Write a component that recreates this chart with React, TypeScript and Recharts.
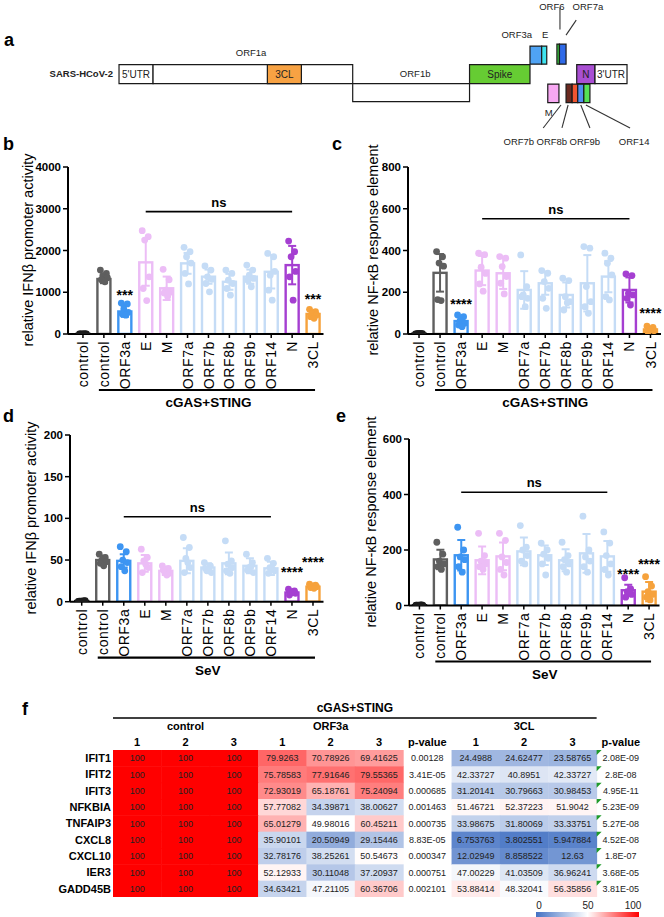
import React from "react";
import {
  Bar,
  ComposedChart,
  ReferenceArea,
  ReferenceLine,
  Scatter,
  ScatterChart,
  XAxis,
  YAxis,
} from "recharts";

const FONT = "'Liberation Sans', Arial, Helvetica, sans-serif";

// ---------- panel a: genome map (map units: 5'UTR start = 0, 3'UTR end = 100)
const genomeParts = [
  { name: "5'UTR", start: 0, end: 6.7, low: 0, high: 1, color: "#ffffff", inside: true },
  { name: "ORF1a", start: 6.7, end: 46, low: 0, high: 1, color: "#ffffff", inside: false },
  { name: "3CL", start: 29.2, end: 35.9, low: 0, high: 1, color: "#f7a243", inside: true },
  { name: "ORF1b", start: 46, end: 69, low: -0.95, high: 0, color: "#ffffff", inside: false },
  { name: "Spike", start: 69, end: 80.9, low: 0, high: 1, color: "#66cc33", inside: true },
  { name: "ORF3a", start: 80.9, end: 83.2, low: 1.02, high: 1.97, color: "#4fa3f4", inside: false },
  { name: "E", start: 83.2, end: 84.2, low: 1.02, high: 1.97, color: "#3fe3ee", inside: false },
  { name: "ORF6", start: 86.2, end: 86.7, low: 1.02, high: 2.08, color: "#3fcf45", inside: false },
  { name: "ORF7a", start: 86.7, end: 88.0, low: 1.02, high: 2.08, color: "#2f6ae8", inside: false },
  { name: "M", start: 84.4, end: 86.6, low: -1.0, high: -0.03, color: "#f7a8f2", inside: false },
  { name: "ORF7b", start: 88.0, end: 89.2, low: -1.0, high: -0.03, color: "#6b2a20", inside: false },
  { name: "ORF8b", start: 89.2, end: 90.3, low: -1.0, high: -0.03, color: "#ef5530", inside: false },
  { name: "ORF9b", start: 90.3, end: 91.5, low: -1.0, high: -0.03, color: "#4f8ff0", inside: false },
  { name: "ORF14", start: 91.5, end: 92.7, low: -1.0, high: -0.03, color: "#55e055", inside: false },
  { name: "N", start: 90.1, end: 93.7, low: 0, high: 1, color: "#a94fd3", inside: true },
  { name: "3'UTR", start: 93.7, end: 100, low: 0, high: 1, color: "#ffffff", inside: true },
];

const genomeTags = [
  { text: "SARS-HCoV-2", x: -1.2, y: 0.52, anchor: "end", bold: true },
  { text: "ORF1a", x: 26, y: 1.6, anchor: "middle", bold: false },
  { text: "ORF1b", x: 58.3, y: 0.5, anchor: "middle", bold: false },
  { text: "ORF3a", x: 78.3, y: 2.55, anchor: "middle", bold: false },
  { text: "E", x: 83.9, y: 2.55, anchor: "middle", bold: false },
  { text: "ORF6", x: 85.2, y: 4.03, anchor: "middle", bold: false },
  { text: "ORF7a", x: 92.3, y: 4.03, anchor: "middle", bold: false },
  { text: "M", x: 84.6, y: -1.55, anchor: "middle", bold: false },
  { text: "ORF7b", x: 78.7, y: -3.08, anchor: "middle", bold: false },
  { text: "ORF8b", x: 85.2, y: -3.08, anchor: "middle", bold: false },
  { text: "ORF9b", x: 91.7, y: -3.08, anchor: "middle", bold: false },
  { text: "ORF14", x: 101.4, y: -3.08, anchor: "middle", bold: false },
];

const genomeLinks = [
  [86.8, 4.0, 86.8, 2.84],
  [88.0, 2.55, 90.0, 3.34],
  [87.0, -1.13, 83.5, -2.34],
  [88.4, -1.13, 87.2, -2.34],
  [90.9, -1.13, 92.7, -2.34],
  [91.9, -1.13, 100.6, -2.34],
];

// ---------- panels b-e
const categories = ["control", "control", "ORF3a", "E", "M", "ORF7a", "ORF7b", "ORF8b", "ORF9b", "ORF14", "N", "3CL"];
const categoryKeys = ["mock", "ctrl", "ORF3a", "E", "M", "ORF7a", "ORF7b", "ORF8b", "ORF9b", "ORF14", "N", "3CL"];
const barColors = ["#1c1c1c", "#5f5f5f", "#3d95f2", "#ecbdf6", "#ecbdf6", "#c5dcf6", "#c5dcf6", "#c5dcf6", "#c5dcf6", "#c5dcf6", "#a53fd1", "#f6a23c"];

// b: IFNβ, cGAS+STING
const ifnCgasMean = [3, 1317, 540, 1716, 1095, 1692, 1373, 1250, 1373, 1490, 1650, 480];
const ifnCgasSd = [2, 100, 130, 560, 280, 250, 170, 190, 170, 400, 460, 80];
const ifnCgasReps = [
  [0, 2, 4, 5, 3, 6],
  [1530, 1450, 1400, 1350, 1300, 1250],
  [740, 720, 600, 520, 480, 450],
  [2475, 2330, 2250, 1370, 1090, 800],
  [1550, 1300, 1050, 1000, 980, 900],
  [2075, 1970, 1850, 1700, 1450, 1200],
  [1630, 1530, 1370, 1310, 1210, 1010],
  [1530, 1450, 1290, 1210, 1090, 930],
  [1650, 1530, 1410, 1330, 1290, 1130],
  [1930, 1850, 1410, 1500, 1050, 810],
  [2225, 1970, 1850, 1500, 1370, 810],
  [590, 535, 495, 455, 415, 375],
];
const ifnCgasStars = [
  { key: "ORF3a", v: 982, s: "***" },
  { key: "3CL", v: 893, s: "***" },
];

// c: NF-κB, cGAS+STING
const nfkbCgasMean = [2, 293, 62, 304, 291, 211, 243, 187, 243, 275, 211, 22];
const nfkbCgasSd = [1, 90, 22, 70, 75, 90, 55, 60, 135, 75, 60, 10];
const nfkbCgasReps = [
  [1, 2, 3, 2, 1, 3],
  [395, 370, 340, 325, 165, 160],
  [91, 83, 64, 51, 43, 35],
  [387, 380, 320, 290, 240, 205],
  [371, 363, 323, 275, 243, 192],
  [379, 227, 187, 171, 179, 131],
  [304, 291, 251, 219, 171, 123],
  [267, 256, 179, 155, 115, 150],
  [419, 411, 227, 155, 131, 99],
  [387, 363, 339, 283, 179, 163],
  [288, 280, 195, 187, 171, 139],
  [38, 32, 19, 16, 11, 20],
];
const nfkbCgasStars = [
  { key: "ORF3a", v: 153, s: "****" },
  { key: "3CL", v: 110, s: "****" },
];

// d: IFNβ, SeV
const ifnSevMean = [0.8, 50, 49, 46, 37, 49, 41, 46, 43, 40, 11, 18];
const ifnSevSd = [0.3, 5, 8, 10, 5, 15, 5, 13, 9, 8, 3, 2];
const ifnSevReps = [
  [0.5, 1, 0.8, 1.2, 0.6, 0.9],
  [57, 53, 50, 48, 46, 43],
  [66, 60, 50, 47, 42, 37],
  [63, 53, 49, 41, 35, 45],
  [43, 40, 35, 34, 38, 32],
  [77, 65, 52, 41, 35, 47],
  [47, 43, 37, 35, 40, 38],
  [73, 49, 45, 41, 37, 34],
  [57, 47, 41, 35, 38, 42],
  [52, 46, 41, 37, 34, 40],
  [15, 13, 12, 10, 8, 11],
  [21, 20, 19, 18, 17, 16],
];
const ifnSevStars = [
  { key: "N", v: 38.5, s: "****" },
  { key: "3CL", v: 50.6, s: "****" },
];

// e: NF-κB, SeV
const nfkbSevMean = [1, 166, 181, 163, 177, 195, 181, 163, 188, 177, 55, 50];
const nfkbSevSd = [0.5, 35, 55, 50, 50, 50, 35, 40, 70, 55, 20, 35];
const nfkbSevReps = [
  [1, 2, 1, 0, 1, 2],
  [228, 185, 160, 150, 140, 130],
  [282, 200, 175, 165, 140, 120],
  [260, 180, 160, 150, 140, 130],
  [260, 235, 175, 155, 130, 110],
  [288, 210, 200, 180, 160, 150],
  [225, 200, 185, 170, 150, 110],
  [228, 180, 165, 150, 140, 120],
  [322, 200, 175, 160, 140, 120],
  [265, 225, 180, 150, 130, 110],
  [100, 60, 50, 40, 30, 50],
  [104, 70, 50, 40, 30, 20],
];
const nfkbSevStars = [
  { key: "N", v: 119, s: "****" },
  { key: "3CL", v: 155, s: "****" },
];

// ---------- panel f: relative expression (%)
const heatGenes = ["IFIT1", "IFIT2", "IFIT3", "NFKBIA", "TNFAIP3", "CXCL8", "CXCL10", "IER3", "GADD45B"];
const controlRep1 = [100, 100, 100, 100, 100, 100, 100, 100, 100];
const controlRep2 = [100, 100, 100, 100, 100, 100, 100, 100, 100];
const controlRep3 = [100, 100, 100, 100, 100, 100, 100, 100, 100];
const orf3aRep1 = [79.9263, 75.78583, 72.93019, 57.77082, 65.01279, 35.90101, 32.78176, 52.12933, 34.63421];
const orf3aRep2 = [70.78926, 77.91646, 65.18761, 34.39871, 49.98016, 20.50949, 38.25261, 30.11048, 47.21105];
const orf3aRep3 = [69.41625, 79.55365, 75.24094, 38.00627, 60.45211, 29.15446, 50.54673, 37.20937, 60.36706];
const orf3aP = ["0.00128", "3.41E-05", "0.000685", "0.001463", "0.000735", "8.83E-05", "0.000347", "0.000751", "0.002101"];
const clRep1 = [24.4988, 42.33727, 31.20141, 51.46721, 33.98675, 6.753763, 12.02949, 47.00229, 53.88414];
const clRep2 = [24.62477, 40.8951, 30.79663, 52.37223, 31.80069, 3.802551, 8.858522, 41.03509, 48.32041];
const clRep3 = [23.58765, 42.33727, 30.98453, 51.9042, 33.33751, 5.947884, 12.63, 36.96241, 56.35856];
const clP = ["2.08E-09", "2.8E-08", "4.95E-11", "5.23E-09", "5.27E-08", "4.52E-08", "1.8E-07", "3.68E-05", "3.81E-05"];

const heatColumns = [
  { key: "c1", label: "1", values: controlRep1, texts: null },
  { key: "c2", label: "2", values: controlRep2, texts: null },
  { key: "c3", label: "3", values: controlRep3, texts: null },
  { key: "o1", label: "1", values: orf3aRep1, texts: null },
  { key: "o2", label: "2", values: orf3aRep2, texts: null },
  { key: "o3", label: "3", values: orf3aRep3, texts: null },
  { key: "op", label: "p-value", values: null, texts: orf3aP },
  { key: "l1", label: "1", values: clRep1, texts: null },
  { key: "l2", label: "2", values: clRep2, texts: null },
  { key: "l3", label: "3", values: clRep3, texts: null },
  { key: "lp", label: "p-value", values: null, texts: clP },
];
const heatColKeys = heatColumns.map((c) => c.key);

// heat table layout
const HEAT_W = 664;
const HEAT_H = 197;
const HEAT_MARGIN = { top: 30, right: 19, bottom: 0, left: 0 };
const HEAT_YAXIS_W = 113;
const HEAT_XAXIS_H = 20;
const HEAT_BW = (HEAT_W - HEAT_MARGIN.right - HEAT_YAXIS_W) / heatColumns.length;
const HEAT_BH = (HEAT_H - HEAT_MARGIN.top - HEAT_XAXIS_H) / heatGenes.length;

const DOT_JITTER = [-3.5, 2.5, -1, 3.5, -2.5, 1];

function mix(a: number[], b: number[], t: number) {
  const c = a.map((v, i) => Math.round(v + (b[i] - v) * t));
  return `rgb(${c[0]},${c[1]},${c[2]})`;
}

function heatColor(v: number) {
  const lo = [68, 114, 196];
  const mid = [255, 255, 255];
  const hi = [255, 0, 0];
  if (v >= 50) return mix(mid, hi, Math.min(1, (v - 50) / 50));
  return mix(mid, lo, Math.min(1, (50 - v) / 50));
}

function colorOf(key: string) {
  return barColors[categoryKeys.indexOf(key)];
}

function OpenBar(props: any) {
  const { x, y, width, height, payload } = props;
  if (x == null || y == null) return null;
  const color = colorOf(payload.key);
  const ppu = payload.mean > 0 && height > 0 ? height / payload.mean : 0;
  const cx = x + width / 2;
  const yTop = y - payload.sd * ppu;
  const yBot = Math.min(y + payload.sd * ppu, y + height);
  return (
    <g>
      <rect x={x} y={y} width={width} height={Math.max(height, 0)} fill="#fff" stroke={color} strokeWidth={2.4} />
      <line x1={cx} x2={cx} y1={yTop} y2={yBot} stroke={color} strokeWidth={2} />
      <line x1={cx - 4} x2={cx + 4} y1={yTop} y2={yTop} stroke={color} strokeWidth={2} />
      <line x1={cx - 4} x2={cx + 4} y1={yBot} y2={yBot} stroke={color} strokeWidth={2} />
    </g>
  );
}

function RepDot(props: any) {
  const { cx, cy, payload } = props;
  if (cx == null || cy == null) return null;
  return <circle cx={cx + DOT_JITTER[payload.j % DOT_JITTER.length]} cy={cy} r={3.4} fill={colorOf(payload.key)} />;
}

function StarText(props: any) {
  const { cx, cy, payload } = props;
  if (cx == null || cy == null) return null;
  return (
    <text x={cx} y={cy + 7} textAnchor="middle" fontSize={14} fontWeight={700} fill="#000">
      {payload.s}
    </text>
  );
}

function CategoryTick(props: any) {
  const { x, y, payload, band, group } = props;
  const i = categoryKeys.indexOf(payload.value);
  return (
    <g>
      <text
        transform={`translate(${x},${y}) rotate(-90)`}
        x={-1}
        dy="0.36em"
        textAnchor="end"
        fontSize={14}
        letterSpacing={0.6}
        fill="#000"
      >
        {categories[i]}
      </text>
      {i === 6 && (
        <g>
          <line x1={x - 5 * band - 5} x2={x + 5 * band + 2} y1={y + 50} y2={y + 50} stroke="#000" strokeWidth={2.2} />
          <text x={x} y={y + 67} textAnchor="middle" fontSize={13.5} fontWeight={700} fill="#000">
            {group}
          </text>
        </g>
      )}
    </g>
  );
}

type PanelProps = {
  left: number;
  top: number;
  width: number;
  height: number;
  marginTop: number;
  marginRight: number;
  plotHeight: number;
  yAxisWidth: number;
  padLeft: number;
  yMax: number;
  yTicks: number[];
  means: number[];
  sds: number[];
  reps: number[][];
  stars: { key: string; v: number; s: string }[];
  ns: { from: string; to: string; y: number };
  group: string;
};

function BarPanel(p: PanelProps) {
  const rows = categoryKeys.map((key, i) => ({ key, mean: p.means[i], sd: p.sds[i] }));
  const dots = p.reps.flatMap((vals, i) => vals.map((v, j) => ({ key: categoryKeys[i], v, j })));
  const plotW = p.width - p.yAxisWidth - p.marginRight;
  const band = (plotW - p.padLeft) / categoryKeys.length;
  return (
    <div style={{ position: "absolute", left: p.left, top: p.top }}>
      <ComposedChart
        width={p.width}
        height={p.height}
        data={rows}
        margin={{ top: p.marginTop, right: p.marginRight, bottom: 0, left: 0 }}
      >
        <XAxis
          dataKey="key"
          type="category"
          allowDuplicatedCategory={false}
          interval={0}
          height={p.height - p.marginTop - p.plotHeight}
          padding={{ left: p.padLeft, right: 0 }}
          axisLine={{ stroke: "#000", strokeWidth: 2 }}
          tickLine={{ stroke: "#000", strokeWidth: 1.5 }}
          tickSize={4}
          tick={(t: any) => <CategoryTick {...t} band={band} group={p.group} />}
        />
        <YAxis
          type="number"
          domain={[0, p.yMax]}
          ticks={p.yTicks}
          interval={0}
          allowDataOverflow
          width={p.yAxisWidth}
          axisLine={{ stroke: "#000", strokeWidth: 2 }}
          tickLine={{ stroke: "#000", strokeWidth: 1.5 }}
          tickSize={5}
          tick={{ fill: "#000", fontSize: 11.5, fontWeight: 700, fontFamily: FONT }}
        />
        <ReferenceLine
          segment={[
            { x: p.ns.from, y: p.ns.y },
            { x: p.ns.to, y: p.ns.y },
          ]}
          stroke="#000"
          strokeWidth={1.6}
          label={{ value: "ns", position: "top", offset: 5, fill: "#000", fontSize: 13, fontWeight: 700, fontFamily: FONT }}
        />
        <Bar dataKey="mean" barSize={13} isAnimationActive={false} shape={(s: any) => <OpenBar {...s} />} />
        <Scatter data={dots} dataKey="v" isAnimationActive={false} shape={(s: any) => <RepDot {...s} />} />
        <Scatter data={p.stars} dataKey="v" isAnimationActive={false} shape={(s: any) => <StarText {...s} />} />
      </ComposedChart>
    </div>
  );
}

function GenomeTag(props: any) {
  const { cx, cy, payload } = props;
  if (cx == null || cy == null) return null;
  return (
    <text
      x={cx}
      y={cy}
      dy="0.35em"
      textAnchor={payload.anchor}
      fontSize={9.5}
      fontWeight={payload.bold ? 700 : 400}
      fill="#222"
    >
      {payload.text}
    </text>
  );
}

function GenomeMap() {
  return (
    <div style={{ position: "absolute", left: 0, top: 0 }}>
      <ComposedChart width={664} height={150} data={genomeTags} margin={{ top: 0, right: 0, bottom: 0, left: 0 }}>
        <XAxis type="number" dataKey="x" domain={[-23.43, 107.28]} allowDataOverflow hide />
        <YAxis type="number" dataKey="y" domain={[-3.5, 4.4]} allowDataOverflow hide />
        {genomeParts.map((g) => (
          <ReferenceArea
            key={g.name}
            x1={g.start}
            x2={g.end}
            y1={g.low}
            y2={g.high}
            fill={g.color}
            fillOpacity={1}
            stroke="#1a1a1a"
            strokeWidth={1.2}
            ifOverflow="visible"
            label={g.inside ? { value: g.name, position: "center", fontSize: 10, fill: "#222", fontFamily: FONT } : undefined}
          />
        ))}
        {genomeLinks.map((l, i) => (
          <ReferenceLine
            key={i}
            segment={[
              { x: l[0], y: l[1] },
              { x: l[2], y: l[3] },
            ]}
            stroke="#333"
            strokeWidth={1.1}
            ifOverflow="visible"
          />
        ))}
        <Scatter dataKey="y" isAnimationActive={false} shape={(s: any) => <GenomeTag {...s} />} />
      </ComposedChart>
    </div>
  );
}

function HeatCell(props: any) {
  const { cx, cy, payload } = props;
  if (cx == null || cy == null) return null;
  const x0 = cx - HEAT_BW / 2;
  const y0 = cy - HEAT_BH / 2;
  return (
    <g>
      {payload.value != null && (
        <rect x={x0} y={y0} width={HEAT_BW + 0.5} height={HEAT_BH + 0.5} fill={heatColor(payload.value)} />
      )}
      {payload.flag && <polygon points={`${x0},${y0} ${x0 + 5},${y0} ${x0},${y0 + 5}`} fill="#1f9a2a" />}
      <text x={cx} y={cy} dy="0.35em" textAnchor="middle" fontSize={9} fill="#222">
        {payload.text}
      </text>
    </g>
  );
}

function HeatHeadTick(props: any) {
  const { x, y, payload } = props;
  const i = heatColKeys.indexOf(payload.value);
  const col = heatColumns[i];
  const groupLabel = i === 1 ? "control" : i === 4 ? "ORF3a" : i === 8 ? "3CL" : null;
  return (
    <g>
      <text x={x} y={y - 4} textAnchor="middle" fontSize={11} fontWeight={700} fill="#000">
        {col ? col.label : ""}
      </text>
      {groupLabel && (
        <text x={x} y={y - 20} textAnchor="middle" fontSize={11} fontWeight={700} fill="#000">
          {groupLabel}
        </text>
      )}
      {i === 0 && (
        <g>
          <line
            x1={x - HEAT_BW / 2}
            x2={x + 9.5 * HEAT_BW}
            y1={y - 32}
            y2={y - 32}
            stroke="#000"
            strokeWidth={1.6}
          />
          <text x={x + 4.5 * HEAT_BW} y={y - 38} textAnchor="middle" fontSize={12} fontWeight={700} fill="#000">
            cGAS+STING
          </text>
        </g>
      )}
    </g>
  );
}

function HeatGeneTick(props: any) {
  const { x, y, payload } = props;
  return (
    <text x={x - 2} y={y} dy="0.35em" textAnchor="end" fontSize={11} fontWeight={700} fill="#000">
      {payload.value}
    </text>
  );
}

function HeatTable() {
  const cells = heatGenes.flatMap((gene, r) =>
    heatColumns.map((col) => ({
      col: col.key,
      gene,
      value: col.values ? col.values[r] : null,
      text: col.values ? String(col.values[r]) : (col.texts as string[])[r],
      flag: col.key === "lp",
    })),
  );
  return (
    <div style={{ position: "absolute", left: 0, top: 700 }}>
      <ScatterChart width={HEAT_W} height={HEAT_H} margin={HEAT_MARGIN}>
        <XAxis
          dataKey="col"
          type="category"
          orientation="top"
          allowDuplicatedCategory={false}
          interval={0}
          height={HEAT_XAXIS_H}
          axisLine={false}
          tickLine={false}
          tickSize={0}
          tickMargin={0}
          tick={(t: any) => <HeatHeadTick {...t} />}
        />
        <YAxis
          dataKey="gene"
          type="category"
          allowDuplicatedCategory={false}
          reversed
          interval={0}
          width={HEAT_YAXIS_W}
          axisLine={false}
          tickLine={false}
          tickSize={0}
          tickMargin={0}
          tick={(t: any) => <HeatGeneTick {...t} />}
        />
        <Scatter data={cells} isAnimationActive={false} shape={(s: any) => <HeatCell {...s} />} />
      </ScatterChart>
    </div>
  );
}

export default function App() {
  return (
    <div
      style={{
        position: "absolute",
        left: 0,
        top: 0,
        width: 664,
        height: 917,
        background: "#fff",
        fontFamily: FONT,
        overflow: "hidden",
      }}
    >
      <GenomeMap />
      <BarPanel
        left={0}
        top={150}
        width={330}
        height={260}
        marginTop={17}
        marginRight={6.5}
        plotHeight={167}
        yAxisWidth={68}
        padLeft={4.5}
        yMax={4000}
        yTicks={[0, 1000, 2000, 3000, 4000]}
        means={ifnCgasMean}
        sds={ifnCgasSd}
        reps={ifnCgasReps}
        stars={ifnCgasStars}
        ns={{ from: "E", to: "N", y: 2930 }}
        group="cGAS+STING"
      />
      <BarPanel
        left={330}
        top={150}
        width={334}
        height={260}
        marginTop={17}
        marginRight={3}
        plotHeight={167}
        yAxisWidth={78}
        padLeft={0.5}
        yMax={800}
        yTicks={[0, 200, 400, 600, 800]}
        means={nfkbCgasMean}
        sds={nfkbCgasSd}
        reps={nfkbCgasReps}
        stars={nfkbCgasStars}
        ns={{ from: "E", to: "N", y: 552 }}
        group="cGAS+STING"
      />
      <BarPanel
        left={0}
        top={420}
        width={330}
        height={258}
        marginTop={15}
        marginRight={6.5}
        plotHeight={166.7}
        yAxisWidth={70}
        padLeft={1.2}
        yMax={200}
        yTicks={[0, 50, 100, 150, 200]}
        means={ifnSevMean}
        sds={ifnSevSd}
        reps={ifnSevReps}
        stars={ifnSevStars}
        ns={{ from: "ORF3a", to: "ORF14", y: 102 }}
        group="SeV"
      />
      <BarPanel
        left={330}
        top={420}
        width={334}
        height={262}
        marginTop={19}
        marginRight={4.5}
        plotHeight={166.5}
        yAxisWidth={79}
        padLeft={0}
        yMax={600}
        yTicks={[0, 200, 400, 600]}
        means={nfkbSevMean}
        sds={nfkbSevSd}
        reps={nfkbSevReps}
        stars={nfkbSevStars}
        ns={{ from: "ORF3a", to: "ORF14", y: 408 }}
        group="SeV"
      />
      <HeatTable />
      <div
        style={{
          position: "absolute",
          left: 536,
          top: 912,
          width: 103,
          height: 5,
          background: "linear-gradient(to right, rgb(68,114,196), #ffffff, #ff0000)",
        }}
      />
      <svg
        width={664}
        height={917}
        style={{ position: "absolute", left: 0, top: 0, pointerEvents: "none" }}
        fontFamily={FONT}
      >
        <g fontWeight={700} fontSize={18} fill="#000">
          <text x={4} y={46}>a</text>
          <text x={3} y={150}>b</text>
          <text x={332} y={150}>c</text>
          <text x={3} y={422}>d</text>
          <text x={336} y={422}>e</text>
          <text x={22} y={715}>f</text>
        </g>
        <g fontSize={14.5} fill="#000" textAnchor="middle">
          <text transform="translate(33,250) rotate(-90)">relative IFNβ promoter activity</text>
          <text transform="translate(378,250) rotate(-90)">relative NF-κB response element</text>
          <text transform="translate(36,518) rotate(-90)">relative IFNβ promoter activity</text>
          <text transform="translate(376,522) rotate(-90)">relative NF-κB response element</text>
        </g>
        <g fontSize={10} fill="#222" textAnchor="middle">
          <text x={539} y={909}>0</text>
          <text x={588} y={909}>50</text>
          <text x={633} y={909}>100</text>
        </g>
      </svg>
    </div>
  );
}
